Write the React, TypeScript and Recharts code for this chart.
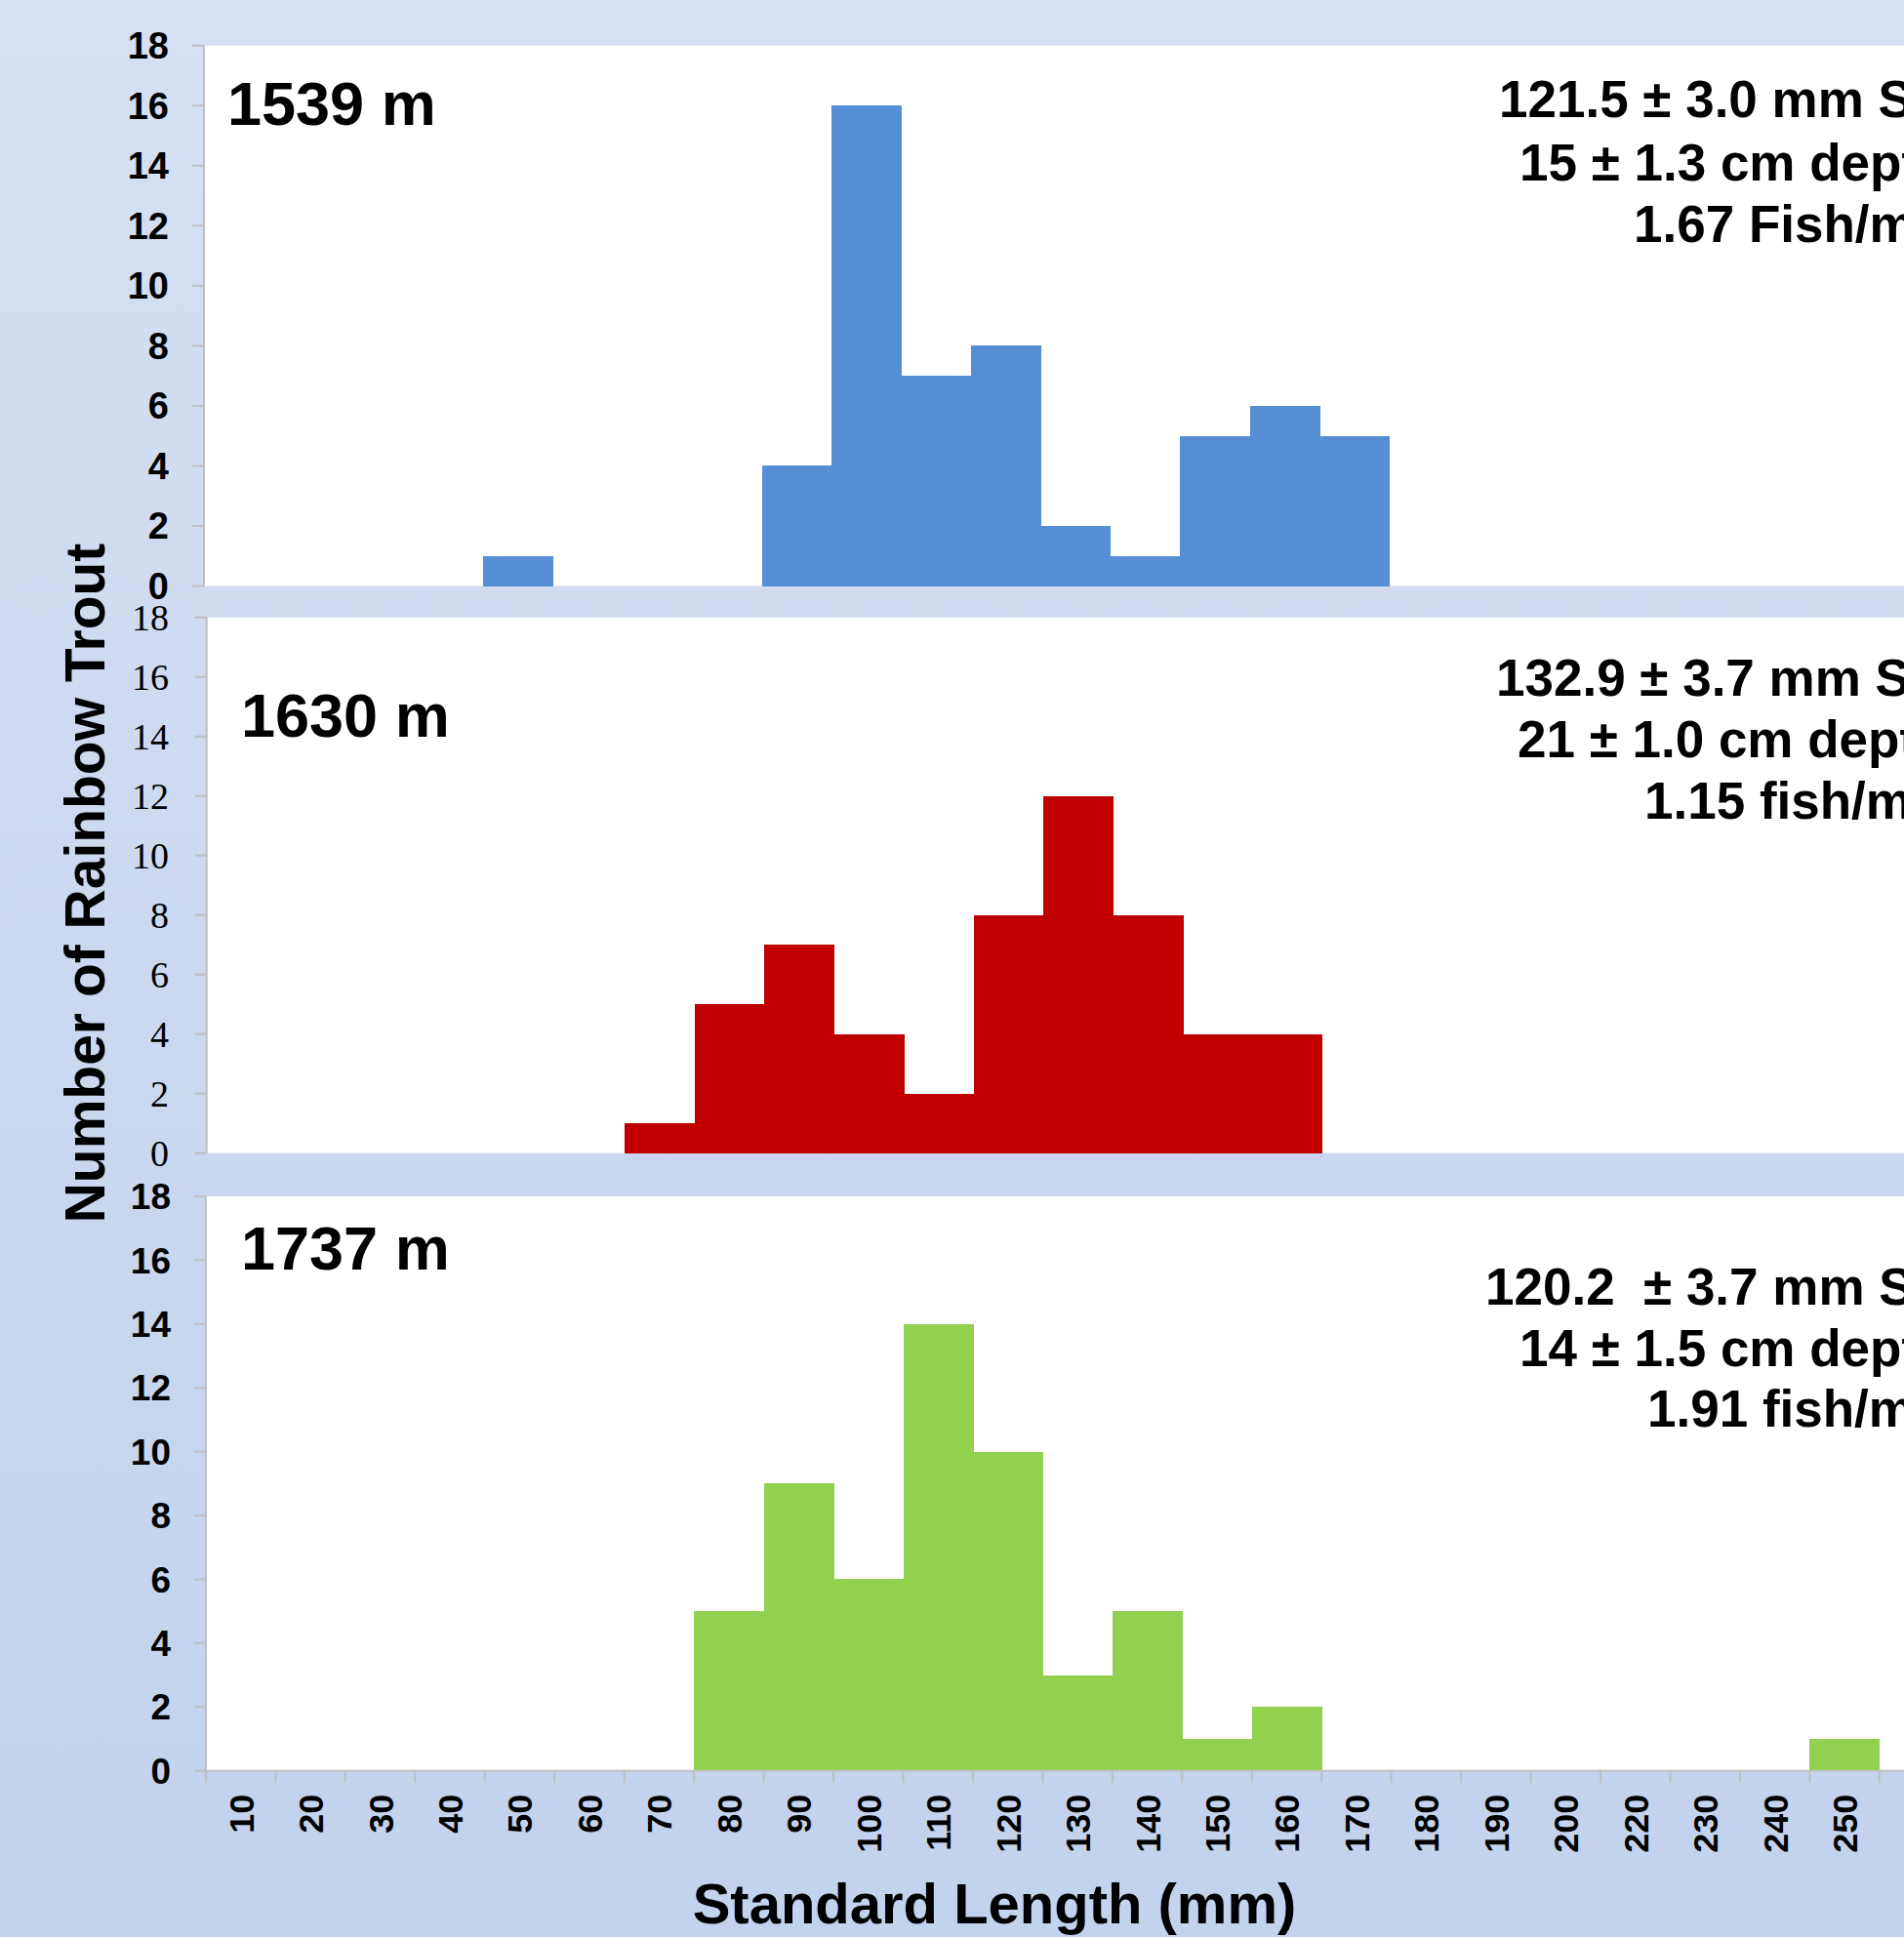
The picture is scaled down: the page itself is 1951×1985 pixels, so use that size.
import React from 'react';
import { BarChart, Bar, XAxis, YAxis, CartesianGrid } from 'recharts';

// ---------- data ----------
const categories = ['10', '20', '30', '40', '50', '60', '70', '80', '90', '100', '110', '120', '130', '140', '150', '160', '170', '180', '190', '200', '220', '230', '240', '250'];
const counts1539 = [0, 0, 0, 0, 1, 0, 0, 0, 4, 16, 7, 8, 2, 1, 5, 6, 5, 0, 0, 0, 0, 0, 0, 0];
const counts1630 = [0, 0, 0, 0, 0, 0, 1, 5, 7, 4, 2, 8, 12, 8, 4, 4, 0, 0, 0, 0, 0, 0, 0, 0];
const counts1737 = [0, 0, 0, 0, 0, 0, 0, 5, 9, 6, 14, 10, 3, 5, 1, 2, 0, 0, 0, 0, 0, 0, 0, 1];
const yTicks = [0, 2, 4, 6, 8, 10, 12, 14, 16, 18];

const siteLabels = ['1539 m', '1630 m', '1737 m'];
const statsLines = [
  ['121.5 \u00B1 3.0 mm SL', '15 \u00B1 1.3 cm depth', '1.67 Fish/m\u00B2'],
  ['132.9 \u00B1 3.7 mm SL', '21 \u00B1 1.0 cm depth', '1.15 fish/m\u00B2'],
  ['120.2  \u00B1 3.7 mm SL', '14 \u00B1 1.5 cm depth', '1.91 fish/m\u00B2'],
];
const yTitle = 'Number of Rainbow Trout';
const xTitle = 'Standard Length (mm)';

// ---------- layout ----------
const W = 1951;
const H = 1985;
const BAND = 71.45;
const PAD_R = 80;
const YW = 160;
const XH = 120;
const AXIS_GRAY = '#BFBFBF';
const SANS = 'Liberation Sans, Arial, sans-serif';
const SERIF = 'Liberation Serif, Times New Roman, serif';

const toData = (vals: number[]) => categories.map((c, i) => ({ cat: c, v: vals[i] }));

type PanelCfg = {
  vals: number[];
  color: string;
  axisX: number;
  top: number;
  bottom: number;
  labelEnd: number;
  font: string;
  weight: number;
  fontSize: number;
  showX: boolean;
};

const panels: PanelCfg[] = [
  { vals: counts1539, color: '#558ED5', axisX: 209, top: 46.7, bottom: 600.5, labelEnd: 173, font: SANS, weight: 700, fontSize: 38, showX: false },
  { vals: counts1630, color: '#C00000', axisX: 211.7, top: 632.7, bottom: 1181.7, labelEnd: 173, font: SERIF, weight: 400, fontSize: 38, showX: false },
  { vals: counts1737, color: '#92D050', axisX: 211, top: 1226, bottom: 1814.7, labelEnd: 175, font: SANS, weight: 700, fontSize: 37, showX: true },
];

const XTick = (props: any) => {
  const { x, y, payload, index } = props;
  const half = payload && typeof payload.offset === 'number' && payload.offset > 0 ? payload.offset : BAND / 2;
  const isLast = index === categories.length - 1;
  return (
    <g>
      <line x1={x - half} x2={x - half} y1={y} y2={y + 12} stroke={AXIS_GRAY} strokeWidth={2} />
      {isLast && <line x1={x + half} x2={x + half} y1={y} y2={y + 12} stroke={AXIS_GRAY} strokeWidth={2} />}
      <text
        transform={`translate(${x},${y + 24}) rotate(-90)`}
        textAnchor="end"
        dy="0.36em"
        fontFamily={SANS}
        fontWeight={700}
        fontSize={36}
        fill="#000"
      >
        {payload.value}
      </text>
    </g>
  );
};

// bars of a histogram touch each other; widen each by a pixel to hide seams
const BarShape = (props: any) => {
  const { x, y, width, height, fill } = props;
  if (!height || height <= 0) return null;
  const x0 = Math.round(x);
  const x1 = Math.round(x + width) + 1;
  const y0 = Math.round(y);
  const y1 = Math.round(y + height);
  return <rect x={x0} y={y0} width={x1 - x0} height={y1 - y0} fill={fill} shapeRendering="crispEdges" />;
};

const Panel = ({ cfg }: { cfg: PanelCfg }) => {
  const chartW = cfg.axisX + categories.length * BAND + PAD_R;
  const marginBottom = H - cfg.bottom - (cfg.showX ? XH : 0);
  return (
    <div style={{ position: 'absolute', left: 0, top: 0 }}>
      <BarChart
        width={chartW}
        height={H}
        data={toData(cfg.vals)}
        margin={{ top: cfg.top, bottom: marginBottom, left: cfg.axisX - YW, right: 0 }}
        barCategoryGap={0}
        barGap={0}
      >
        <CartesianGrid fill="#FFFFFF" horizontal={false} vertical={false} stroke="none" />
        <XAxis
          dataKey="cat"
          type="category"
          hide={!cfg.showX}
          interval={0}
          height={XH}
          padding={{ left: 0, right: PAD_R }}
          axisLine={{ stroke: AXIS_GRAY, strokeWidth: 2 }}
          tickLine={false}
          tickSize={0}
          tickMargin={0}
          tick={(p: any) => <XTick {...p} />}
        />
        <YAxis
          width={YW}
          domain={[0, 18]}
          ticks={yTicks}
          interval={0}
          allowDecimals={false}
          tickSize={12}
          tickMargin={cfg.axisX - 12 - cfg.labelEnd}
          axisLine={{ stroke: AXIS_GRAY, strokeWidth: 2 }}
          tickLine={{ stroke: AXIS_GRAY, strokeWidth: 2 }}
          tick={{ fill: '#000', fontSize: cfg.fontSize, fontFamily: cfg.font, fontWeight: cfg.weight }}
        />
        <Bar dataKey="v" fill={cfg.color} isAnimationActive={false} shape={(p: any) => <BarShape {...p} />} />
      </BarChart>
    </div>
  );
};

const labelPos = [
  { x: 233, y: 128 },
  { x: 247, y: 755 },
  { x: 247, y: 1301 },
];
const statsPos = [
  { xs: [1536, 1557, 1674], ys: [120, 185, 248] },
  { xs: [1533, 1555, 1685], ys: [713, 776, 839] },
  { xs: [1522, 1557, 1688], ys: [1337, 1400, 1462] },
];

export default function App() {
  return (
    <div
      style={{
        position: 'absolute',
        left: 0,
        top: 0,
        width: W,
        height: H,
        overflow: 'hidden',
        background: 'linear-gradient(180deg, #D6E0F2 0%, #CCD8EF 50%, #C3D2ED 100%)',
      }}
    >
      {panels.map((p, i) => (
        <Panel key={i} cfg={p} />
      ))}
      <svg width={W} height={H} style={{ position: 'absolute', left: 0, top: 0, pointerEvents: 'none' }}>
        {siteLabels.map((t, i) => (
          <text key={t} x={labelPos[i].x} y={labelPos[i].y} fontFamily={SANS} fontWeight={700} fontSize={63} fill="#000">
            {t}
          </text>
        ))}
        {statsLines.map((lines, i) =>
          lines.map((t, j) => (
            <text
              key={`${i}-${j}`}
              x={statsPos[i].xs[j]}
              y={statsPos[i].ys[j]}
              fontFamily={SANS}
              fontWeight={700}
              fontSize={53}
              fill="#000"
              style={{ whiteSpace: 'pre' }}
            >
              {t}
            </text>
          ))
        )}
        <text
          transform="translate(107,905) rotate(-90)"
          textAnchor="middle"
          fontFamily={SANS}
          fontWeight={700}
          fontSize={57}
          fill="#000"
        >
          {yTitle}
        </text>
        <text x={1019} y={1971} textAnchor="middle" fontFamily={SANS} fontWeight={700} fontSize={58} fill="#000">
          {xTitle}
        </text>
      </svg>
    </div>
  );
}
